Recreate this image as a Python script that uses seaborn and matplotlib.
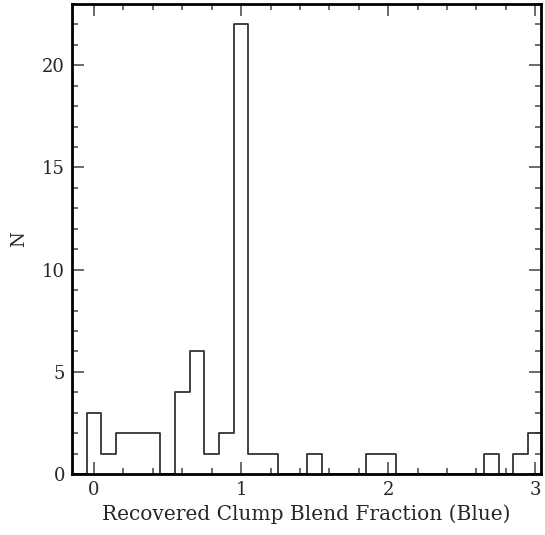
import numpy as np
import pandas as pd
import matplotlib
matplotlib.use("Agg")
import matplotlib.pyplot as plt
import seaborn as sns
from matplotlib.ticker import MultipleLocator

# bin centres (width 0.1) and counts
bin_centers = [-0.1, 0.0, 0.1, 0.2, 0.3, 0.4, 0.5, 0.6, 0.7, 0.8, 0.9, 1.0,
               1.1, 1.2, 1.3, 1.4, 1.5, 1.6, 1.7, 1.8, 1.9, 2.0, 2.1, 2.2,
               2.3, 2.4, 2.5, 2.6, 2.7, 2.8, 2.9, 3.0, 3.1]
counts = [0, 3, 1, 2, 2, 2, 0, 4, 6, 1, 2, 22,
          1, 1, 0, 0, 1, 0, 0, 0, 1, 1, 0, 0,
          0, 0, 0, 0, 1, 0, 1, 2, 0]
xlabel = "Recovered Clump Blend Fraction (Blue)"
ylabel = "N"

df = pd.DataFrame({"x": bin_centers, "n": counts})
edges = [round(-0.15 + 0.1 * i, 3) for i in range(len(bin_centers) + 1)]

sns.set_style("ticks")
plt.rcParams["font.family"] = ["DejaVu Serif"]

fig = plt.figure(figsize=(5.45, 5.35), dpi=100)
ax = fig.add_axes([0.132, 0.114, 0.861, 0.8785])
sns.histplot(data=df, x="x", weights="n", bins=edges, element="step",
             fill=False, color="#333333", linewidth=1.3, ax=ax)

ax.set_xlim(-0.15, 3.04)
ax.set_ylim(0, 23)
ax.xaxis.set_major_locator(MultipleLocator(1))
ax.xaxis.set_minor_locator(MultipleLocator(0.2))
ax.yaxis.set_major_locator(MultipleLocator(5))
ax.yaxis.set_minor_locator(MultipleLocator(1))
ax.tick_params(which="both", direction="in", top=True, right=True, width=1.1,
               labelsize=13, color="#444444")
ax.tick_params(which="major", length=8.6, pad=5)
ax.tick_params(which="minor", length=4.3)
for s in ax.spines.values():
    s.set_linewidth(2)
    s.set_color("black")
ax.set_xlabel(xlabel, fontsize=14.5, labelpad=4)
ax.set_ylabel(ylabel, fontsize=13, labelpad=10)
fig.savefig("out.png", dpi=100)
